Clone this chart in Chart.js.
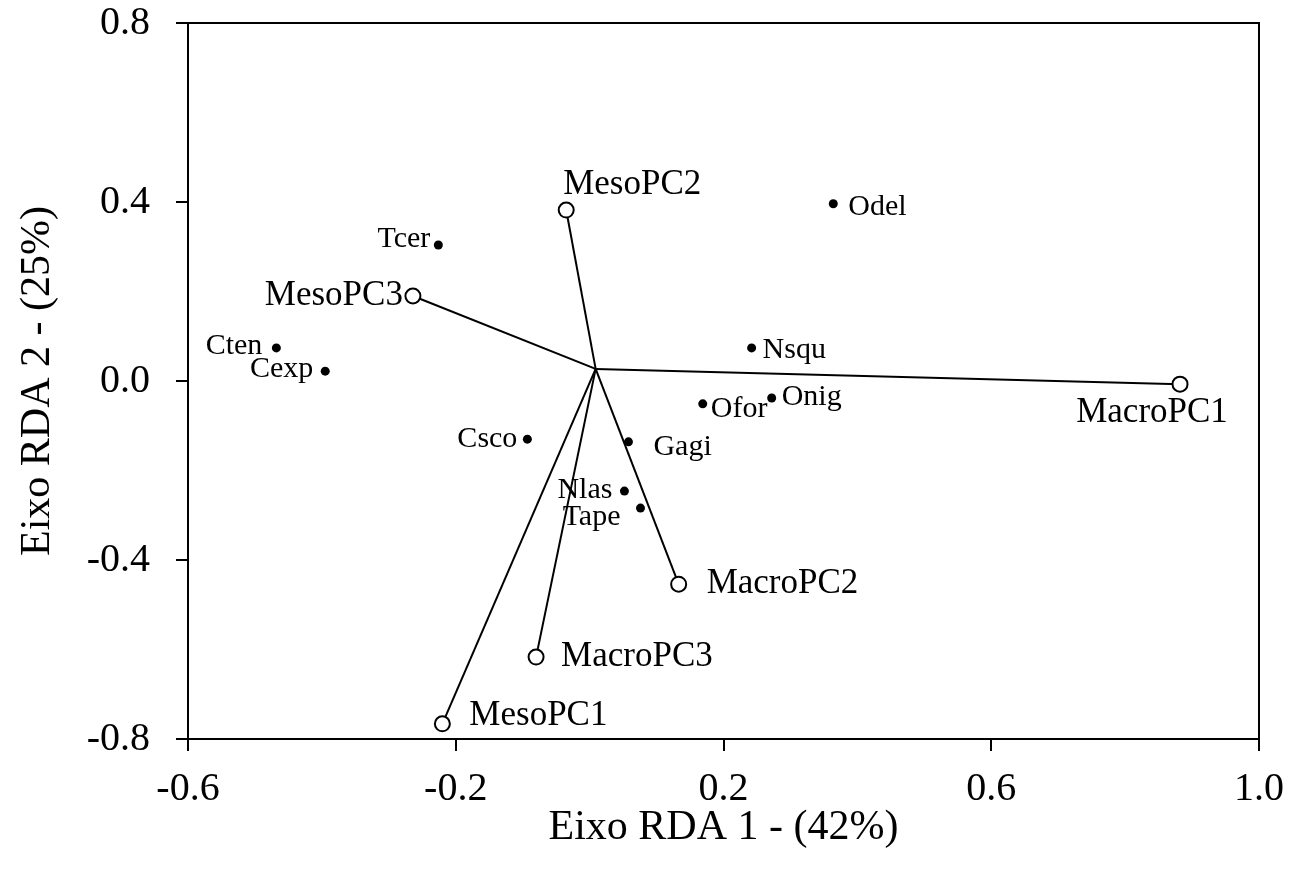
<!DOCTYPE html>
<html>
<head>
<meta charset="utf-8">
<script src="https://cdn.jsdelivr.net/npm/chart.js@4/dist/chart.umd.min.js"></script>
<style>
  html, body { margin: 0; padding: 0; background: #fff; }
  #wrap { width: 1304px; height: 869px; }
</style>
</head>
<body>
<div id="wrap"><canvas id="rdaChart" width="1304" height="869"></canvas></div>
<script>
// RDA biplot: environmental vectors + species scores
const origin = [0.009, 0.027];

const envNames = ['MacroPC1', 'MacroPC2', 'MacroPC3', 'MesoPC1', 'MesoPC2', 'MesoPC3'];
const envX = [0.882, 0.133, -0.080, -0.220, -0.035, -0.264];
const envY = [-0.007, -0.454, -0.617, -0.766, 0.382, 0.190];

const sppNames = ['Odel', 'Tcer', 'Cten', 'Cexp', 'Nsqu', 'Onig', 'Ofor', 'Csco', 'Gagi', 'Nlas', 'Tape'];
const sppX = [0.364, -0.226, -0.468, -0.395, 0.242, 0.272, 0.169, -0.093, 0.058, 0.052, 0.076];
const sppY = [0.396, 0.304, 0.074, 0.022, 0.074, -0.038, -0.051, -0.130, -0.136, -0.246, -0.284];

const xTicks = [-0.6, -0.2, 0.2, 0.6, 1.0];
const yTicks = [-0.8, -0.4, 0.0, 0.4, 0.8];

// label placement, px from the point: [dx, dy, align]
const envLabelPos = {
    MacroPC1: [-28, 29, 'center'],
    MacroPC2: [28, 0, 'left'],
    MacroPC3: [25, 0, 'left'],
    MesoPC1: [27, -8, 'left'],
    MesoPC2: [-3, -25, 'left'],
    MesoPC3: [-10, 0, 'right']
};
const sppLabelPos = {
    Odel: [15, 3, 'left'],
    Tcer: [-8, -6, 'right'],
    Cten: [-14, -2, 'right'],
    Cexp: [-12, -2, 'right'],
    Nsqu: [11, 2, 'left'],
    Onig: [10, -1, 'left'],
    Ofor: [8, 5, 'left'],
    Csco: [-10, 0, 'right'],
    Gagi: [25, 5, 'left'],
    Nlas: [-12, -1, 'right'],
    Tape: [-20, 9, 'right']
};

const FONT = '"Liberation Serif", "Times New Roman", serif';

const datasets = [];
envNames.forEach((name, i) => {
    datasets.push({
        label: name,
        kind: 'env',
        data: [{ x: origin[0], y: origin[1] }, { x: envX[i], y: envY[i] }],
        showLine: true,
        borderColor: '#000',
        borderWidth: 2,
        pointRadius: [0, 7.5],
        pointBackgroundColor: '#fff',
        pointBorderColor: '#000',
        pointBorderWidth: 2
    });
});
datasets.push({
    label: 'species',
    kind: 'spp',
    data: sppNames.map((n, i) => ({ x: sppX[i], y: sppY[i] })),
    showLine: false,
    pointRadius: 4.5,
    pointBackgroundColor: '#000',
    pointBorderWidth: 0
});

const labelPlugin = {
    id: 'pointLabels',
    afterDatasetsDraw(chart) {
        const ctx = chart.ctx;
        ctx.save();
        ctx.fillStyle = '#000';
        ctx.textBaseline = 'middle';
        chart.data.datasets.forEach((ds, di) => {
            const meta = chart.getDatasetMeta(di);
            if (ds.kind === 'env') {
                const pt = meta.data[1];
                const p = envLabelPos[ds.label];
                ctx.font = '35px ' + FONT;
                ctx.textAlign = p[2];
                ctx.fillText(ds.label, pt.x + p[0], pt.y + p[1]);
            } else {
                ctx.font = '30px ' + FONT;
                meta.data.forEach((pt, i) => {
                    const p = sppLabelPos[sppNames[i]];
                    ctx.textAlign = p[2];
                    ctx.fillText(sppNames[i], pt.x + p[0], pt.y + p[1]);
                });
            }
        });
        ctx.restore();
    }
};

const framePlugin = {
    id: 'frame',
    afterDraw(chart) {
        const a = chart.chartArea;
        const ctx = chart.ctx;
        ctx.save();
        ctx.strokeStyle = '#000';
        ctx.lineWidth = 2;
        ctx.beginPath();
        ctx.moveTo(a.left, a.top);
        ctx.lineTo(a.right, a.top);
        ctx.lineTo(a.right, a.bottom);
        ctx.stroke();
        ctx.restore();
    }
};

const fmt = v => (Math.abs(v) < 1e-9 ? 0 : v).toFixed(1);

new Chart(document.getElementById('rdaChart'), {
    type: 'scatter',
    data: { datasets },
    plugins: [labelPlugin, framePlugin],
    options: {
        responsive: false,
        animation: false,
        layout: { padding: { top: 23, right: 45, left: 0, bottom: 0 } },
        plugins: { legend: { display: false }, tooltip: { enabled: false } },
        scales: {
            x: {
                type: 'linear',
                min: -0.6,
                max: 1.0,
                afterBuildTicks: axis => { axis.ticks = xTicks.map(v => ({ value: v })); },
                afterFit: axis => {
                    axis.height = 130;
                    axis.paddingLeft = 0;
                    axis.paddingRight = 0;
                },
                grid: { drawOnChartArea: false, color: '#000', lineWidth: 2, tickLength: 12, tickColor: '#000' },
                border: { color: '#000', width: 2 },
                ticks: { color: '#000', font: { family: FONT, size: 40 }, padding: 14, maxRotation: 0, callback: fmt },
                title: { display: true, text: 'Eixo RDA 1 - (42%)', color: '#000', font: { family: FONT, size: 42 }, padding: { top: 0, bottom: 16 } }
            },
            y: {
                type: 'linear',
                min: -0.8,
                max: 0.8,
                afterBuildTicks: axis => { axis.ticks = yTicks.map(v => ({ value: v })); },
                afterFit: axis => {
                    axis.width = 188;
                    axis.paddingTop = 0;
                    axis.paddingBottom = 0;
                },
                grid: { drawOnChartArea: false, color: '#000', lineWidth: 2, tickLength: 12, tickColor: '#000' },
                border: { color: '#000', width: 2 },
                ticks: { color: '#000', font: { family: FONT, size: 40 }, padding: 26, callback: fmt },
                title: { display: true, text: 'Eixo RDA 2 - (25%)', color: '#000', font: { family: FONT, size: 42 }, padding: { top: 13, bottom: 0 } }
            }
        }
    }
});
</script>
</body>
</html>
